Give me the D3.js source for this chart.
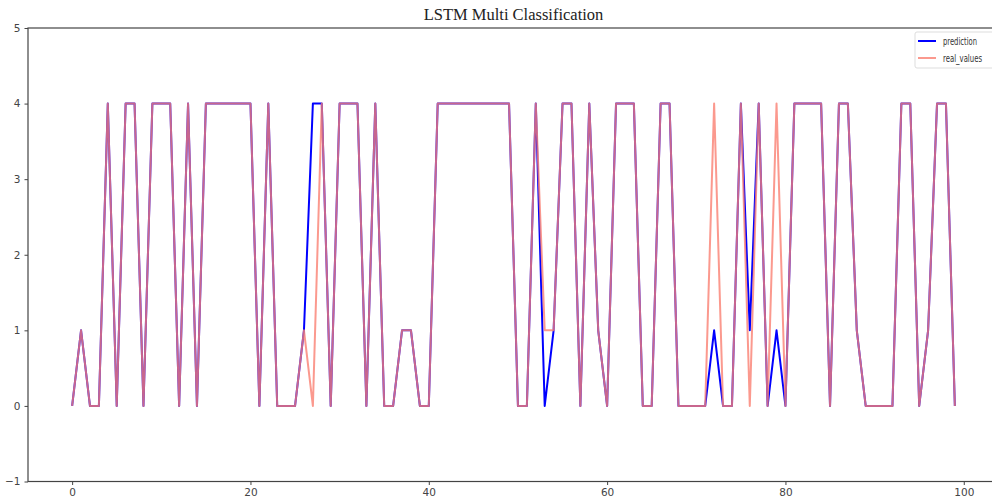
<!DOCTYPE html>
<html>
<head>
<meta charset="utf-8">
<script src="https://cdn.jsdelivr.net/npm/d3@7"></script>
<style>
  body { margin: 0; background: #fff; }
  .tick text { font-family: "DejaVu Sans", sans-serif; font-size: 10.5px; fill: #444; }
  .tick line { stroke: #444; }
  .domain { display: none; }
</style>
</head>
<body>
<div id="chart-area"></div>
<script>
// index along the x axis
var steps = d3.range(0, 100);

// predicted class per step
var prediction = [
    0, 1, 0, 0, 4, 0, 4, 4, 0, 4,
    4, 4, 0, 4, 0, 4, 4, 4, 4, 4,
    4, 0, 4, 0, 0, 0, 1, 4, 4, 0,
    4, 4, 4, 0, 4, 0, 0, 1, 1, 0,
    0, 4, 4, 4, 4, 4, 4, 4, 4, 4,
    0, 0, 4, 0, 1, 4, 4, 0, 4, 1,
    0, 4, 4, 4, 0, 0, 4, 4, 0, 0,
    0, 0, 1, 0, 0, 4, 1, 4, 0, 1,
    0, 4, 4, 4, 4, 0, 4, 4, 1, 0,
    0, 0, 0, 4, 4, 0, 1, 4, 4, 0
];

// true class per step
var realValues = [
    0, 1, 0, 0, 4, 0, 4, 4, 0, 4,
    4, 4, 0, 4, 0, 4, 4, 4, 4, 4,
    4, 0, 4, 0, 0, 0, 1, 0, 4, 0,
    4, 4, 4, 0, 4, 0, 0, 1, 1, 0,
    0, 4, 4, 4, 4, 4, 4, 4, 4, 4,
    0, 0, 4, 1, 1, 4, 4, 0, 4, 1,
    0, 4, 4, 4, 0, 0, 4, 4, 0, 0,
    0, 0, 4, 0, 0, 4, 0, 4, 0, 4,
    0, 4, 4, 4, 4, 0, 4, 4, 1, 0,
    0, 0, 0, 4, 4, 0, 1, 4, 4, 0
];

var xTicks = [0, 20, 40, 60, 80, 100];
var yTicks = [-1, 0, 1, 2, 3, 4, 5];

var W = 992, H = 500;
var plot = { left: 28, right: 999, top: 28, bottom: 481.5 };

var svg = d3.select("#chart-area")
    .append("svg")
    .attr("width", W)
    .attr("height", H);

var x = d3.scaleLinear()
    .domain([-4.95, 103.95])
    .range([plot.left, plot.right]);

var y = d3.scaleLinear()
    .domain([-1, 5])
    .range([plot.bottom, plot.top]);

var line = d3.line()
    .x((d, i) => x(steps[i]))
    .y(d => y(d));

svg.append("path")
    .datum(prediction)
    .attr("fill", "none")
    .attr("stroke", "#0000ff")
    .attr("stroke-width", 2)
    .attr("stroke-linejoin", "round")
    .attr("d", line);

svg.append("path")
    .datum(realValues)
    .attr("fill", "none")
    .attr("stroke", "salmon")
    .attr("stroke-opacity", 0.8)
    .attr("stroke-width", 2)
    .attr("stroke-linejoin", "round")
    .attr("d", line);

// spines
svg.append("rect")
    .attr("x", plot.left)
    .attr("y", plot.top)
    .attr("width", plot.right - plot.left)
    .attr("height", plot.bottom - plot.top)
    .attr("fill", "none")
    .attr("stroke", "#444")
    .attr("stroke-width", 1.2);

svg.append("g")
    .attr("transform", `translate(0, ${plot.bottom})`)
    .call(d3.axisBottom(x).tickValues(xTicks).tickSize(3.5).tickPadding(4).tickFormat(d3.format("d")));

svg.append("g")
    .attr("transform", `translate(${plot.left}, 0)`)
    .call(d3.axisLeft(y).tickValues(yTicks).tickSize(3.5).tickPadding(4).tickFormat(d => d < 0 ? "\u2212" + Math.abs(d) : d));

svg.append("text")
    .attr("x", (plot.left + plot.right) / 2)
    .attr("y", 20)
    .attr("text-anchor", "middle")
    .attr("font-family", "Liberation Serif, serif")
    .attr("font-size", "16.5px")
    .attr("fill", "#222")
    .text("LSTM Multi Classification");

// legend
var legend = svg.append("g").attr("transform", "translate(915, 32)");
legend.append("rect")
    .attr("width", 90)
    .attr("height", 36)
    .attr("rx", 2)
    .attr("fill", "#fff")
    .attr("stroke", "#ddd");

var items = [
    { name: "prediction", color: "#0000ff", op: 1, len: 34 },
    { name: "real_values", color: "salmon", op: 0.8, len: 39 }
];

items.forEach((it, i) => {
    var row = legend.append("g").attr("transform", `translate(0, ${9 + i * 17})`);
    row.append("line")
        .attr("x1", 3).attr("x2", 21)
        .attr("stroke", it.color)
        .attr("stroke-opacity", it.op)
        .attr("stroke-width", 2);
    row.append("text")
        .attr("x", 28)
        .attr("y", 4)
        .attr("font-family", "DejaVu Sans, sans-serif")
        .attr("font-size", "11px")
        .attr("textLength", it.len)
        .attr("lengthAdjust", "spacingAndGlyphs")
        .attr("fill", "#333")
        .text(it.name);
});
</script>
</body>
</html>
